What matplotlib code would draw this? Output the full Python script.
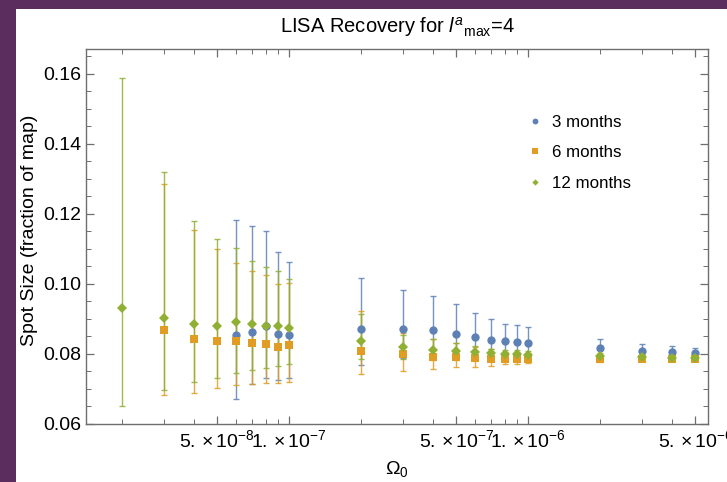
import matplotlib
matplotlib.use("Agg")
import matplotlib.pyplot as plt
from matplotlib.patches import Rectangle
from matplotlib.lines import Line2D
from matplotlib.ticker import FixedLocator, FixedFormatter, NullFormatter
import numpy as np

plt.rcParams['font.family'] = ['Liberation Sans', 'DejaVu Sans']
plt.rcParams['mathtext.fontset'] = 'custom'
plt.rcParams['mathtext.rm'] = 'Liberation Sans'
plt.rcParams['mathtext.it'] = 'Liberation Sans:italic'
plt.rcParams['mathtext.bf'] = 'Liberation Sans:bold'

# ---------------- data ----------------
x_3m = [6e-8, 7e-8, 8e-8, 9e-8, 1e-7,
        2e-7, 3e-7, 4e-7, 5e-7, 6e-7, 7e-7, 8e-7, 9e-7, 1e-6,
        2e-6, 3e-6, 4e-6, 5e-6]
y_3m = [0.0854, 0.0863, 0.0881, 0.0857, 0.0854,
        0.0871, 0.0871, 0.0869, 0.0856, 0.0849, 0.0840, 0.0836, 0.0833, 0.0831,
        0.0816, 0.0809, 0.0805, 0.0802]
hi_3m = [0.1182, 0.1165, 0.1151, 0.1090, 0.1062,
         0.1016, 0.0983, 0.0966, 0.0943, 0.0918, 0.0899, 0.0887, 0.0882, 0.0876,
         0.0843, 0.0829, 0.0823, 0.0816]
lo_3m = [0.0672, 0.0715, 0.0732, 0.0726, 0.0730,
         0.0769, 0.0788, 0.0795, 0.0796, 0.0797, 0.0796, 0.0795, 0.0795, 0.0795,
         0.0798, 0.0798, 0.0797, 0.0796]

x_6m = [3e-8, 4e-8, 5e-8, 6e-8, 7e-8, 8e-8, 9e-8, 1e-7,
        2e-7, 3e-7, 4e-7, 5e-7, 6e-7, 7e-7, 8e-7, 9e-7, 1e-6,
        2e-6, 3e-6, 4e-6, 5e-6]
y_6m = [0.0868, 0.0842, 0.0836, 0.0836, 0.0831, 0.0829, 0.0821, 0.0826,
        0.0809, 0.0799, 0.0792, 0.0791, 0.0788, 0.0786, 0.0786, 0.0786, 0.0786,
        0.0785, 0.0785, 0.0785, 0.0785]
hi_6m = [0.1285, 0.1154, 0.1101, 0.1061, 0.1037, 0.1025, 0.0999, 0.1002,
         0.0922, 0.0860, 0.0844, 0.0830, 0.0821, 0.0814, 0.0806, 0.0805, 0.0803,
         0.0792, 0.0790, 0.0789, 0.0789]
lo_6m = [0.0682, 0.0688, 0.0703, 0.0710, 0.0715, 0.0718, 0.0718, 0.0721,
         0.0742, 0.0752, 0.0756, 0.0762, 0.0764, 0.0767, 0.0770, 0.0770, 0.0773,
         0.0778, 0.0779, 0.0780, 0.0780]

x_12m = [2e-8, 3e-8, 4e-8, 5e-8, 6e-8, 7e-8, 8e-8, 9e-8, 1e-7,
         2e-7, 3e-7, 4e-7, 5e-7, 6e-7, 7e-7, 8e-7, 9e-7, 1e-6,
         2e-6, 3e-6, 4e-6, 5e-6]
y_12m = [0.0931, 0.0902, 0.0885, 0.0881, 0.0890, 0.0887, 0.0881, 0.0880, 0.0875,
         0.0837, 0.0820, 0.0811, 0.0809, 0.0805, 0.0802, 0.0800, 0.0799, 0.0797,
         0.0795, 0.0791, 0.0789, 0.0788]
hi_12m = [0.1587, 0.1320, 0.1180, 0.1129, 0.1103, 0.1065, 0.1047, 0.1037, 0.1014,
          0.0915, 0.0855, 0.0843, 0.0830, 0.0822, 0.0815, 0.0812, 0.0810, 0.0808,
          0.0802, 0.0798, 0.0796, 0.0795]
lo_12m = [0.0651, 0.0697, 0.0721, 0.0731, 0.0747, 0.0753, 0.0759, 0.0767, 0.0771,
          0.0787, 0.0785, 0.0783, 0.0783, 0.0784, 0.0784, 0.0785, 0.0785, 0.0785,
          0.0788, 0.0785, 0.0783, 0.0782]

series_labels = ["3 months", "6 months", "12 months"]
xtick_values = [5e-8, 1e-7, 5e-7, 1e-6, 5e-6]
xtick_labels = [r"$\mathregular{5.\,{\times}\,10^{-8}}$", r"$\mathregular{1.\,{\times}\,10^{-7}}$",
                r"$\mathregular{5.\,{\times}\,10^{-7}}$", r"$\mathregular{1.\,{\times}\,10^{-6}}$",
                r"$\mathregular{5.\,{\times}\,10^{-6}}$"]
ytick_values = [0.06, 0.08, 0.10, 0.12, 0.14, 0.16]
ytick_labels = ["0.06", "0.08", "0.10", "0.12", "0.14", "0.16"]

# ---------------- figure ----------------
W, H = 727, 482
fig = plt.figure(figsize=(W / 100, H / 100), dpi=100)
fig.patch.set_facecolor('white')
purple = '#5b2d5f'
fig.add_artist(Rectangle((0, 0), 16 / W, 1, transform=fig.transFigure,
                         facecolor=purple, edgecolor='none', zorder=0))
fig.add_artist(Rectangle((0, 1 - 9 / H), 1, 9 / H, transform=fig.transFigure,
                         facecolor=purple, edgecolor='none', zorder=0))

left, right, top, bottom = 86, 708, 49, 424
ax = fig.add_axes([left / W, 1 - bottom / H, (right - left) / W, (bottom - top) / H])

colors = ['#5e81b5', '#e19c24', '#8fb032']
markers = ['o', 's', 'D']
msizes = [6.0, 6.2, 4.6]
data = [(x_3m, y_3m, lo_3m, hi_3m), (x_6m, y_6m, lo_6m, hi_6m), (x_12m, y_12m, lo_12m, hi_12m)]

for (xs, ys, lo, hi), c in zip(data, colors):
    ys_a = np.array(ys)
    yerr = [ys_a - np.array(lo), np.array(hi) - ys_a]
    ax.errorbar(xs, ys, yerr=yerr, fmt='none', ecolor=c, elinewidth=1.0,
                capsize=2.3, capthick=1.0, alpha=0.85, zorder=2)
for (xs, ys, lo, hi), c, m, ms in zip(data, colors, markers, msizes):
    ax.plot(xs, ys, linestyle='none', marker=m, markersize=ms, color=c,
            markeredgewidth=0, zorder=3)

ax.set_xscale('log')
ax.set_xlim(1.415e-8, 5.66e-6)
ax.set_ylim(0.06, 0.1671)

ax.xaxis.set_major_locator(FixedLocator(xtick_values))
ax.xaxis.set_major_formatter(FixedFormatter(xtick_labels))
minor_x = [m * 10.0 ** e for e in (-8, -7, -6) for m in range(1, 10)]
ax.xaxis.set_minor_locator(FixedLocator(minor_x))
ax.xaxis.set_minor_formatter(NullFormatter())

ax.yaxis.set_major_locator(FixedLocator(ytick_values))
ax.yaxis.set_major_formatter(FixedFormatter(ytick_labels))
ax.yaxis.set_minor_locator(FixedLocator(np.arange(0.06, 0.1671, 0.005)))

frame_color = '#6e6e6e'
for s in ax.spines.values():
    s.set_color(frame_color)
    s.set_linewidth(1.0)
ax.tick_params(which='both', direction='in', top=True, right=True,
               color=frame_color, labelsize=14, labelcolor='black')
ax.tick_params(which='major', length=6, width=0.9, pad=3.5)
ax.tick_params(which='minor', length=3.5, width=0.7)

ax.set_xlabel(r"$\mathregular{\Omega_0}$", fontsize=14, labelpad=6)
ax.set_ylabel("Spot Size (fraction of map)", fontsize=14)
ax.yaxis.set_label_coords(-0.0775, 0.517)
ax.set_title(r"LISA Recovery for $\mathit{l}^{\mathit{a}}{}_{\mathregular{max}}$=4",
             fontsize=14.5, pad=11.5)

handles = [Line2D([], [], linestyle='none', marker=m, color=c, markersize=s * 0.7,
                  markeredgewidth=0)
           for c, m, s in zip(colors, markers, msizes)]
ax.legend(handles, series_labels, loc='upper left', bbox_to_anchor=(0.70, 0.843),
          frameon=False, fontsize=12.2, handlelength=0.8, handletextpad=0.6,
          labelspacing=0.92, borderaxespad=0)

fig.savefig("out.png", dpi=100)
